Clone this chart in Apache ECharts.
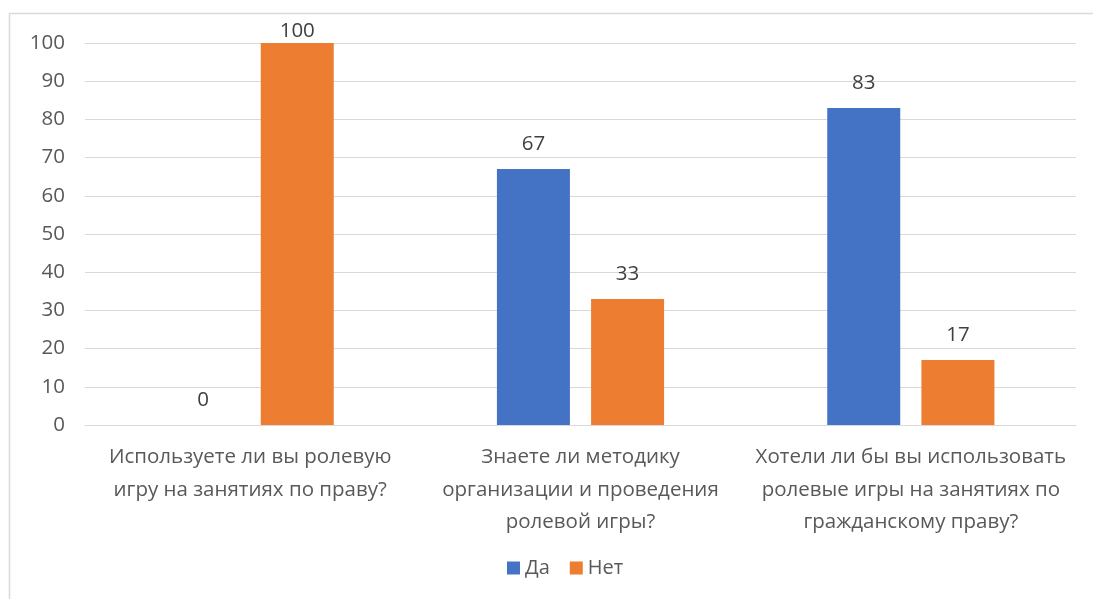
<!DOCTYPE html>
<html>
<head>
<meta charset="utf-8">
<script src="https://cdn.jsdelivr.net/npm/echarts@6/dist/echarts.min.js"></script>
<style>
  html, body { margin: 0; padding: 0; background: #fff; }
  #main { width: 1093px; height: 599px; }
</style>
</head>
<body>
<div id="main"></div>
<script>
// categories (wrapped like the original axis labels)
var categories = [
  'Используете ли вы ролевую\nигру на занятиях по праву?',
  'Знаете ли методику\nорганизации и проведения\nролевой игры?',
  'Хотели ли бы вы использовать\nролевые игры на занятиях по\nгражданскому праву?'
];
var yesValues = [0, 67, 83];
var noValues = [100, 33, 17];

var myChart = echarts.init(document.getElementById('main'));

var font = '"Open Sans", "Noto Sans", sans-serif';

// labels at the very top get squeezed down, like in the original
function withLabels(values) {
  return values.map(function (v) {
    if (v >= 100) return { value: v, label: { distance: 1 } };
    return v;
  });
}

var barLabel = {
  show: true,
  position: 'top',
  distance: 14,
  fontSize: 20.5,
  color: '#404040',
  fontFamily: font
};

var option = {
  animation: false,
  textStyle: { fontFamily: font },
  graphic: [
    {
      // chart frame
      type: 'rect',
      shape: { x: 9.5, y: 13.5, width: 1100, height: 600 },
      style: { fill: 'none', stroke: '#d9d9d9', lineWidth: 1.5 },
      silent: true
    }
  ],
  legend: {
    data: ['Да', 'Нет'],
    bottom: 16,
    left: 502,
    itemWidth: 13,
    itemHeight: 13,
    itemGap: 20,
    icon: 'rect',
    textStyle: { fontSize: 20, color: '#595959', fontFamily: font }
  },
  grid: {
    left: 85,
    right: 17,
    top: 43,
    bottom: 174
  },
  xAxis: {
    type: 'category',
    data: categories,
    axisTick: { show: false },
    axisLine: { lineStyle: { color: '#d9d9d9', width: 1 } },
    axisLabel: {
      fontSize: 20.5,
      color: '#595959',
      lineHeight: 32.5,
      margin: 16,
      interval: 0,
      fontFamily: font
    }
  },
  yAxis: {
    type: 'value',
    min: 0,
    max: 100,
    interval: 10,
    axisLine: { show: false },
    axisTick: { show: false },
    splitLine: { lineStyle: { color: '#d9d9d9', width: 1 } },
    axisLabel: {
      fontSize: 20.5,
      color: '#595959',
      margin: 20,
      fontFamily: font
    }
  },
  series: [
    {
      name: 'Да',
      type: 'bar',
      data: withLabels(yesValues),
      barWidth: 73,
      barGap: '29%',
      itemStyle: { color: '#4472c4' },
      label: barLabel
    },
    {
      name: 'Нет',
      type: 'bar',
      data: withLabels(noValues),
      barWidth: 73,
      itemStyle: { color: '#ed7d31' },
      label: barLabel
    }
  ]
};

myChart.setOption(option);
</script>
</body>
</html>
